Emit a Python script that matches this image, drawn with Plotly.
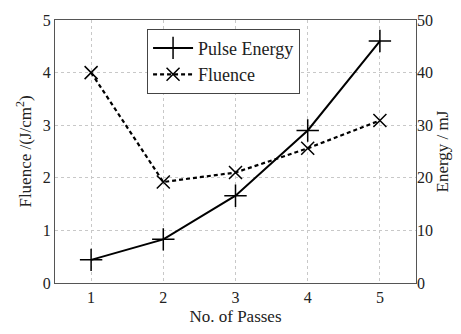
import plotly.graph_objects as go

passes = [1, 2, 3, 4, 5]
pulse_energy_mJ = [4.4, 8.3, 16.6, 29.0, 46.0]
fluence = [4.0, 1.92, 2.10, 2.56, 3.09]

x_ticks = [1, 2, 3, 4, 5]
left_ticks = [0, 1, 2, 3, 4, 5]
right_ticks = [0, 10, 20, 30, 40, 50]

FONT = "Liberation Serif"

fig = go.Figure()
fig.add_trace(go.Scatter(
    x=passes, y=pulse_energy_mJ, yaxis="y2", name="Pulse Energy",
    mode="lines+markers",
    line=dict(color="black", width=2, dash="solid"),
    marker=dict(symbol="cross-thin-open", size=16, line=dict(color="black", width=1.5)),
))
fig.add_trace(go.Scatter(
    x=passes, y=fluence, yaxis="y", name="Fluence",
    mode="lines+markers",
    line=dict(color="black", width=2.2, dash="4px,3px"),
    marker=dict(symbol="x-thin-open", size=13, line=dict(color="black", width=1.5)),
))

fig.update_layout(
    width=461, height=334,
    margin=dict(l=55, r=45, t=15, b=47),
    paper_bgcolor="white", plot_bgcolor="white",
    font=dict(family=FONT, size=16, color="#222"),
    showlegend=True,
    legend=dict(
        x=0.255, y=0.967, xanchor="left", yanchor="top",
        bgcolor="white", bordercolor="#444", borderwidth=1,
        font=dict(family=FONT, size=18, color="#222"),
        itemwidth=40, tracegroupgap=0,
    ),
    xaxis=dict(
        range=[0.5, 5.5], tickvals=x_ticks,
        showgrid=True, gridcolor="#c8c8c8", griddash="dot", gridwidth=1,
        showline=True, linecolor="#555", linewidth=1.2, mirror=True,
        ticks="", zeroline=False,
        title=dict(text="No. of Passes", font=dict(family=FONT, size=17), standoff=4),
        tickfont=dict(family=FONT, size=16),
    ),
    yaxis=dict(
        range=[0, 5], tickvals=left_ticks,
        showgrid=True, gridcolor="#c8c8c8", griddash="dot", gridwidth=1,
        showline=True, linecolor="#555", linewidth=1.2, mirror=True,
        ticks="", zeroline=False,
        title=dict(text="Fluence /(J/cm<sup>2</sup>)", font=dict(family=FONT, size=17), standoff=6),
        tickfont=dict(family=FONT, size=16),
    ),
    yaxis2=dict(
        range=[0, 50], tickvals=right_ticks, overlaying="y", side="right",
        showgrid=False, zeroline=False, showline=False, ticks="",
        title=dict(text="Energy / mJ", font=dict(family=FONT, size=17), standoff=4),
        tickfont=dict(family=FONT, size=16),
    ),
)

fig.write_html("out.html")
